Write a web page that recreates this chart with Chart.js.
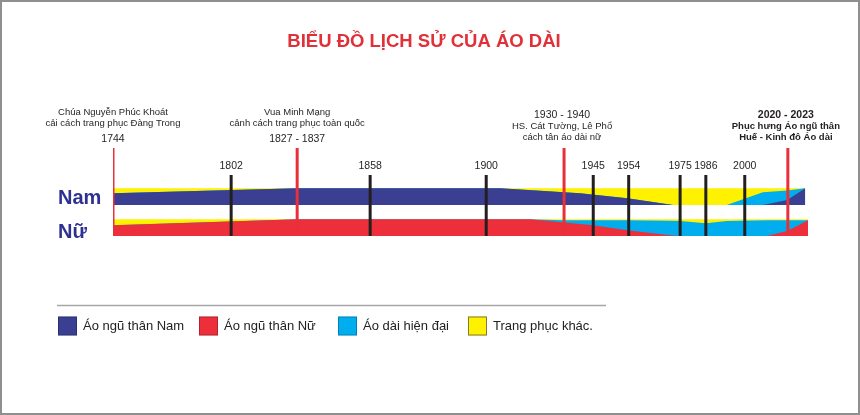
<!DOCTYPE html>
<html>
<head>
<meta charset="utf-8">
<script src="https://cdn.jsdelivr.net/npm/chart.js@4"></script>
<style>
  body { margin: 0; background: #fff; }
  canvas { display: block; }
</style>
</head>
<body>
<canvas id="chart" width="860" height="415"></canvas>
<script>
// Mốc thời gian (vị trí trên trục: 0 = 1744, 100 = cuối dải)
const eventLabels = ['1744', '1802', '1827 - 1837', '1858', '1900', '1930 - 1940', '1945', '1954', '1975', '1986', '2000', '2020 - 2023'];
const eventPos = [0, 17.0, 26.5, 37.0, 53.7, 64.9, 69.1, 74.2, 81.6, 85.3, 90.9, 97.1];
const eventStyle = ['above', 'line', 'above', 'line', 'line', 'below', 'line', 'line', 'line', 'line', 'line', 'bold'];
const eventNotes = [
  ['Chúa Nguyễn Phúc Khoát', 'cải cách trang phục Đàng Trong'], [],
  ['Vua Minh Mạng', 'cảnh cách trang phục toàn quốc'], [], [],
  ['HS. Cát Tường, Lê Phổ', 'cách tân áo dài nữ'], [], [], [], [], [],
  ['Phục hưng Áo ngũ thân', 'Huế - Kinh đô Áo dài']
];

// Dải Nam (tỉ lệ %, phần còn lại là trang phục khác)
const namPos = [0, 26.5, 55.7, 67.2, 74.0, 80.6, 88.3, 93.5, 97.0, 99.6];
const namNguThan = [70, 100, 100, 70, 40, 0, 0, 0, 30, 100];
const namHienDai = [0, 0, 0, 0, 0, 0, 0, 76, 56, 0];

// Dải Nữ
const nuPos = [0, 26.5, 60.0, 64.7, 69.1, 74.1, 80.1, 81.6, 85.3, 88.3, 94.1, 97.0, 100];
const nuNguThan = [65, 100, 100, 82, 65, 35, 4, 0, 0, 0, 0, 30, 95];
const nuHienDai = [0, 0, 0, 13, 30, 60, 88, 90, 76, 90, 95, 65, 0];

const legendNames = ['Áo ngũ thân Nam', 'Áo ngũ thân Nữ', 'Áo dài hiện đại', 'Trang phục khác.'];

const NAVY = '#3b3f91', RED = '#ec2f3b', CYAN = '#00aeef', YELLOW = '#fff200';
const legendColors = [NAVY, RED, CYAN, YELLOW];
const FONT = '"Liberation Sans", Arial, sans-serif';

const NU_BASE = 0, NAM_BASE = 186, BAND = 100;
const TOP_MAJOR = 527, TOP_MINOR = 365;

function area(pos, base, vals, color, order) {
  return {
    data: pos.map((x, i) => ({ x, y: base + vals[i] })),
    backgroundColor: color,
    borderColor: 'rgba(0,0,0,0)',
    borderWidth: 0,
    pointRadius: 0,
    fill: { value: base },
    order
  };
}

function band(pos, base, main, modern, color) {
  const full = pos.map(() => BAND);
  const stack = main.map((v, i) => v + modern[i]);
  return [
    area(pos, base, full, YELLOW, 3),
    area(pos, base, stack, CYAN, 2),
    area(pos, base, main, color, 1)
  ];
}

const lineSets = eventPos.map((p, i) => {
  const major = eventStyle[i] !== 'line';
  return {
    data: [{ x: p, y: 0 }, { x: p, y: major ? TOP_MAJOR : TOP_MINOR }],
    borderColor: major ? '#e8303a' : '#231f20',
    borderWidth: 3,
    pointRadius: 0,
    fill: false,
    order: 0
  };
});

const decor = {
  id: 'decor',
  afterDraw(chart) {
    const ctx = chart.ctx;
    const xs = chart.scales.x, ys = chart.scales.y;
    ctx.save();

    // khung
    ctx.strokeStyle = '#8f8f8f';
    ctx.lineWidth = 2;
    ctx.strokeRect(1, 1, 858, 413);

    // tiêu đề
    ctx.fillStyle = '#e0313a';
    ctx.font = 'bold 18.5px ' + FONT;
    ctx.textAlign = 'center';
    ctx.textBaseline = 'middle';
    ctx.fillText('BIỂU ĐỒ LỊCH SỬ CỦA ÁO DÀI', 424, 42);

    // nhãn dải
    ctx.fillStyle = '#2e3192';
    ctx.font = 'bold 20px ' + FONT;
    ctx.textAlign = 'left';
    ctx.textBaseline = 'alphabetic';
    ctx.fillText('Nam', 58, 204);
    ctx.fillText('Nữ', 58, 238);

    // nhãn mốc
    ctx.textAlign = 'center';
    ctx.textBaseline = 'middle';
    const topMajor = ys.getPixelForValue(TOP_MAJOR);
    const topMinor = ys.getPixelForValue(TOP_MINOR);
    eventLabels.forEach((lab, i) => {
      const x = xs.getPixelForValue(eventPos[i]);
      const st = eventStyle[i];
      const notes = eventNotes[i];
      ctx.fillStyle = '#231f20';
      if (st === 'line') {
        ctx.font = '10.5px ' + FONT;
        ctx.fillText(lab, x, topMinor - 9);
      } else if (st === 'above') {
        ctx.font = '10.5px ' + FONT;
        ctx.fillText(lab, x, topMajor - 8.5);
        ctx.font = '9.5px ' + FONT;
        ctx.fillText(notes[0], x, topMajor - 35.5);
        ctx.fillText(notes[1], x, topMajor - 24.5);
      } else {
        const bold = st === 'bold' ? 'bold ' : '';
        const cx = x - 2;
        ctx.font = bold + '10.5px ' + FONT;
        ctx.fillText(lab, cx, topMajor - 33);
        ctx.font = bold + '9.5px ' + FONT;
        ctx.fillText(notes[0], cx, topMajor - 21.5);
        ctx.fillText(notes[1], cx, topMajor - 11);
      }
    });

    // đường phân cách + chú thích
    ctx.strokeStyle = '#a6a6a6';
    ctx.lineWidth = 1.5;
    ctx.beginPath();
    ctx.moveTo(57, 305.5);
    ctx.lineTo(606, 305.5);
    ctx.stroke();

    const legendX = [58, 199, 338, 468];
    ctx.font = '13px ' + FONT;
    ctx.textAlign = 'left';
    legendNames.forEach((name, i) => {
      ctx.fillStyle = legendColors[i];
      ctx.fillRect(legendX[i], 316.5, 19, 19);
      ctx.strokeStyle = i === 3 ? '#7d7a3a' : 'rgba(0,0,0,0.25)';
      ctx.lineWidth = 1;
      ctx.strokeRect(legendX[i] + 0.5, 317, 18, 18);
      ctx.fillStyle = '#222';
      ctx.fillText(name, legendX[i] + 25, 326.5);
    });
    ctx.restore();
  }
};

new Chart(document.getElementById('chart'), {
  type: 'line',
  data: {
    datasets: [
      ...lineSets,
      ...band(nuPos, NU_BASE, nuNguThan, nuHienDai, RED),
      ...band(namPos, NAM_BASE, namNguThan, namHienDai, NAVY)
    ]
  },
  options: {
    responsive: false,
    animation: false,
    devicePixelRatio: 1,
    layout: { padding: { left: 113, right: 52, top: 147.5, bottom: 179 } },
    scales: {
      x: { type: 'linear', min: 0, max: 100, display: false },
      y: { type: 'linear', min: 0, max: 530, display: false }
    },
    plugins: {
      legend: { display: false },
      tooltip: { enabled: false },
      title: { display: false }
    }
  },
  plugins: [decor]
});
</script>
</body>
</html>
